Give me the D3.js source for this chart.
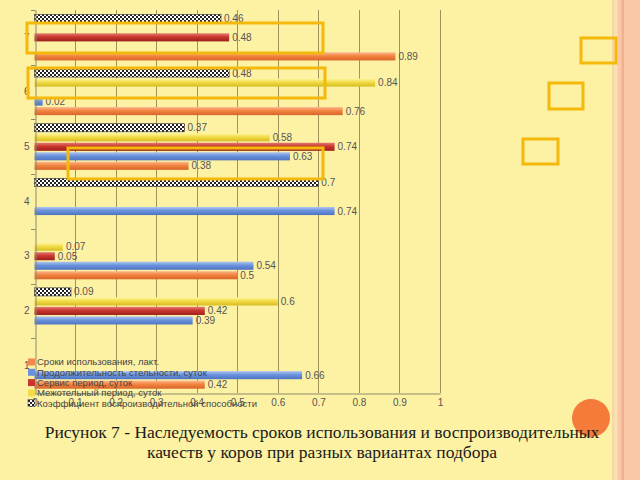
<!DOCTYPE html>
<html><head><meta charset="utf-8">
<script src="https://cdn.jsdelivr.net/npm/d3@7"></script>
<style>html,body{margin:0;padding:0;background:#FDF1A3;}svg{display:block;}</style>
</head><body>
<script>
// ---- data ----
const categories = ["1","2","3","4","5","6","7"];
const seriesNames = [
  "Сроки использования, лакт.",
  "Продолжительность стельности, суток",
  "Сервис период, суток",
  "Межотельный период, суток",
  "Коэффициент воспроизводительной способности"
];
const srokiValues     = [0.42, null, 0.5,  null, 0.38, 0.76, 0.89];
const stelnostValues  = [0.66, 0.39, 0.54, 0.74, 0.63, 0.02, null];
const servisValues    = [null, 0.42, 0.05, null, 0.74, null, 0.48];
const mezhotelValues  = [null, 0.6,  0.07, null, 0.58, 0.84, null];
const koefValues      = [null, 0.09, null, 0.7,  0.37, 0.48, 0.46];
const xTicks = [0,0.1,0.2,0.3,0.4,0.5,0.6,0.7,0.8,0.9,1];
const captionLines = [
  "Рисунок 7 - Наследуемость сроков использования и воспроизводительных",
  "качеств у коров при разных вариантах подбора"
];

const seriesValues = [srokiValues, stelnostValues, servisValues, mezhotelValues, koefValues];
const fills = ["url(#gOrange)","url(#gBlue)","url(#gRed)","url(#gYellow)","url(#pCheck)"];
const legendSw = ["#F0884C","#6A92DC","#C8372F","#F2DC48","url(#pCheck)"];

const W = 640, H = 480;
const svg = d3.select("body").append("svg").attr("width",W).attr("height",H);
svg.append("rect").attr("width",W).attr("height",H).attr("fill","#FDF1A3");

// right decorative stripes
svg.append("rect").attr("x",612).attr("y",0).attr("width",2.5).attr("height",H).attr("fill","#F7D3AE");
svg.append("rect").attr("x",614.5).attr("y",0).attr("width",3).attr("height",H).attr("fill","#FADFB0");
svg.append("rect").attr("x",617.5).attr("y",0).attr("width",22.5).attr("height",H).attr("fill","#FBC8A7");
svg.append("rect").attr("x",621.5).attr("y",0).attr("width",2.5).attr("height",H).attr("fill","#F1B190");

const defs = svg.append("defs");
function grad(id, stops){
  const g = defs.append("linearGradient").attr("id",id).attr("x1",0).attr("y1",0).attr("x2",0).attr("y2",1);
  stops.forEach(s=>g.append("stop").attr("offset",s[0]).attr("stop-color",s[1]));
}
grad("gOrange",[[0,"#FBB890"],[0.45,"#F2843F"],[1,"#D9652A"]]);
grad("gBlue",[[0,"#AFC6F0"],[0.45,"#6A92DC"],[1,"#4C74C2"]]);
grad("gRed",[[0,"#E57A70"],[0.45,"#C8372F"],[1,"#9E1F1C"]]);
grad("gYellow",[[0,"#FFF6A0"],[0.45,"#F2DC48"],[1,"#D6BC22"]]);
const pat = defs.append("pattern").attr("id","pCheck").attr("width",4).attr("height",4).attr("patternUnits","userSpaceOnUse");
pat.append("rect").attr("width",4).attr("height",4).attr("fill","#ffffff");
pat.append("rect").attr("width",2).attr("height",2).attr("fill","#222");
pat.append("rect").attr("x",2).attr("y",2).attr("width",2).attr("height",2).attr("fill","#222");

// scales
const x = d3.scaleLinear().domain([0,1]).range([34.5,440]);
const y = d3.scaleBand().domain(categories.slice().reverse()).range([10,393]).padding(0);
const inner = d3.scaleBand().domain([4,3,2,1,0]).range([0,y.bandwidth()]).paddingInner(0.15).paddingOuter(0.45);

// gridlines
svg.append("g").selectAll("line").data(xTicks.slice(1)).join("line")
  .attr("x1",d=>Math.round(x(d))+0.5).attr("x2",d=>Math.round(x(d))+0.5)
  .attr("y1",10).attr("y2",393).attr("stroke","#A0935A").attr("stroke-width",1);

// bars
const barData = [];
seriesValues.forEach((arr,si)=>arr.forEach((v,ci)=>{ if(v!==null) barData.push({si, cat:categories[ci], v}); }));
svg.append("g").selectAll("rect").data(barData).join("rect")
  .attr("x",x(0)).attr("y",d=>y(d.cat)+inner(d.si))
  .attr("width",d=>x(d.v)-x(0)).attr("height",inner.bandwidth())
  .attr("fill",d=>fills[d.si])
  .attr("stroke",d=>d.si===4?"#333":"none").attr("stroke-width",0.6);

// data labels
svg.append("g").selectAll("text").data(barData).join("text")
  .attr("x",d=>x(d.v)+3).attr("y",d=>y(d.cat)+inner(d.si)+inner.bandwidth()/2)
  .attr("dy","0.35em").attr("font-family","Liberation Sans, Arial, sans-serif")
  .attr("font-size",10).attr("fill","#555")
  .text(d=>String(d.v));

// axes
const xAxis = svg.append("g").attr("transform","translate(0,393.5)")
  .call(d3.axisBottom(x).tickValues(xTicks).tickFormat(d=>String(d)).tickSize(0).tickPadding(5));
xAxis.select(".domain").attr("stroke","#8E8A6A");
xAxis.selectAll("text").attr("font-family","Liberation Sans, Arial, sans-serif").attr("font-size",10).attr("fill","#555");

const yAxis = svg.append("g").attr("transform","translate(35.5,0)")
  .call(d3.axisLeft(y).tickSize(0).tickPadding(6));
yAxis.select(".domain").attr("stroke","#8E8A6A");
yAxis.selectAll("text").attr("font-family","Liberation Sans, Arial, sans-serif").attr("font-size",10).attr("fill","#555");
// boundary tick marks
const bounds = categories.map(c=>y(c)).concat([y.range()[1]]);
svg.append("g").selectAll("line").data(bounds).join("line")
  .attr("x1",31).attr("x2",35.5).attr("y1",d=>Math.round(d)+0.5).attr("y2",d=>Math.round(d)+0.5)
  .attr("stroke","#8E8A6A");

// legend (overlapping chart, transparent)
const lg = svg.append("g");
seriesNames.forEach((n,i)=>{
  const yy = 362 + i*10.3;
  lg.append("rect").attr("x",28).attr("y",yy-3.5).attr("width",7).attr("height",7)
    .attr("fill",legendSw[i]).attr("stroke",i===4?"#333":"none").attr("stroke-width",0.5);
  lg.append("text").attr("x",37).attr("y",yy).attr("dy","0.35em")
    .attr("font-family","Liberation Sans, Arial, sans-serif").attr("font-size",9.5).attr("fill","#444").text(n);
});

// decorative gold rectangles
const boxes = [[27,23,296,30],[28,68,297,30],[68,148,255,31],[581,38,35,25],[549,83,34,26],[523,139,35,25]];
svg.append("g").selectAll("rect").data(boxes).join("rect")
  .attr("x",d=>d[0]).attr("y",d=>d[1]).attr("width",d=>d[2]).attr("height",d=>d[3])
  .attr("fill","none").attr("stroke","#F4B90A").attr("stroke-width",3);

// orange circle
svg.append("circle").attr("cx",591).attr("cy",418).attr("r",19).attr("fill","#F47B3A");

// caption
svg.append("g").selectAll("text").data(captionLines).join("text")
  .attr("x",322).attr("y",(d,i)=>438+i*20).attr("text-anchor","middle")
  .attr("font-family","Liberation Serif, Times New Roman, serif").attr("font-size",17.5).attr("fill","#1a1a1a")
  .text(d=>d);
</script>
</body></html>
